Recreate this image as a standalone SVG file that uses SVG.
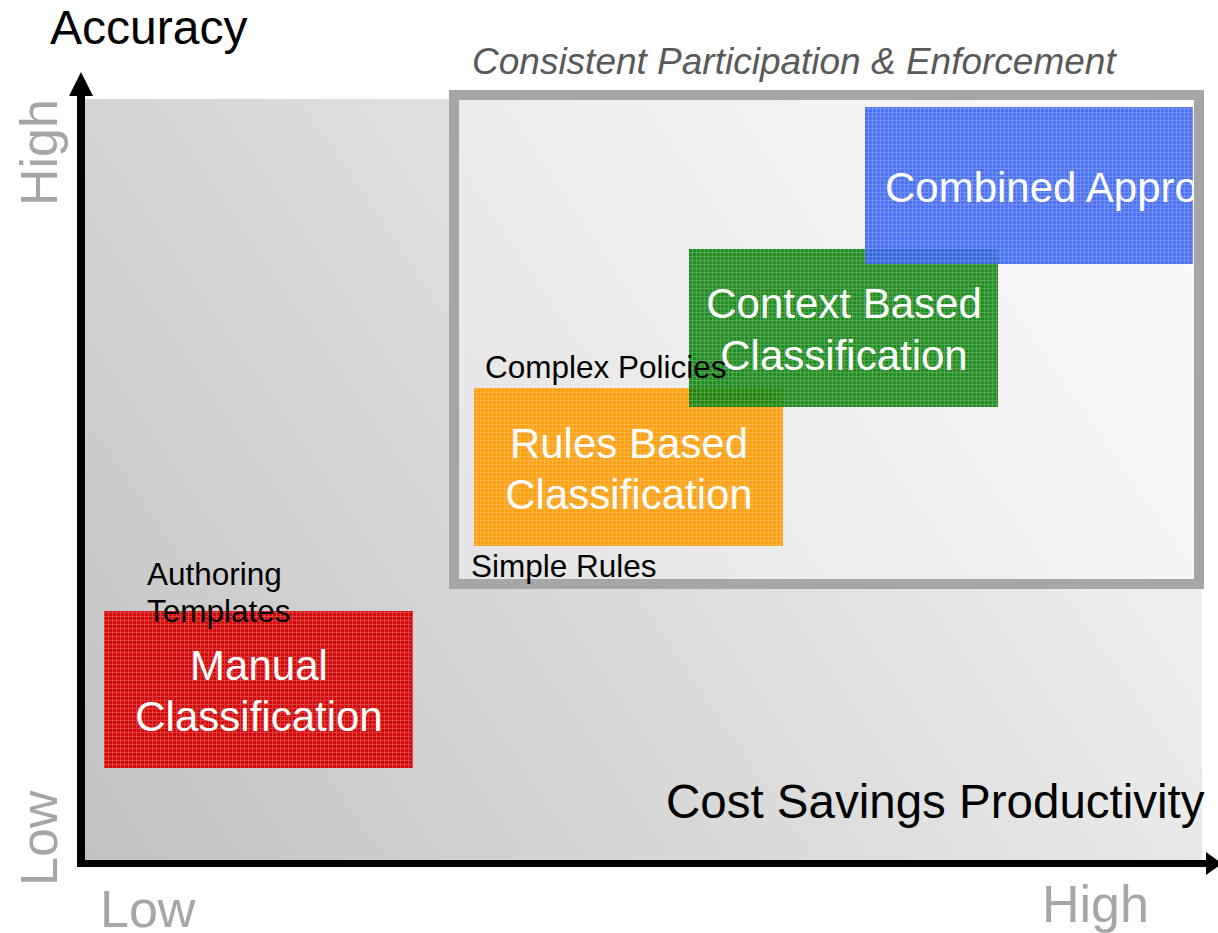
<svg xmlns="http://www.w3.org/2000/svg" width="1218" height="933" viewBox="0 0 1218 933">
  <style>
    .t { font-family: "Liberation Sans", Arial, sans-serif; }
    .axis-lbl { font-family: "Liberation Sans", Arial, sans-serif; font-size: 52px; fill: #a6a6a6; }
    .box-lbl { font-family: "Liberation Sans", Arial, sans-serif; font-size: 42px; fill: #ffffff; text-anchor: middle; }
    .note { font-family: "Liberation Sans", Arial, sans-serif; font-size: 31.5px; fill: #000000; }
    .tex { fill: url(#tex); }
  </style>
  <defs>
    <linearGradient id="bg" gradientUnits="userSpaceOnUse" x1="85" y1="860" x2="1202" y2="100">
      <stop offset="0" stop-color="#c2c2c2"/>
      <stop offset="1" stop-color="#fbfbfb"/>
    </linearGradient>
    <pattern id="tex" patternUnits="userSpaceOnUse" width="4" height="4">
      <rect x="0" y="0" width="4" height="1" fill="#ffffff" fill-opacity="0.22"/>
      <rect x="0" y="1" width="1" height="3" fill="#ffffff" fill-opacity="0.22"/>
    </pattern>
    <clipPath id="clipBlue">
      <rect x="865" y="107" width="328" height="157"/>
    </clipPath>
  </defs>

  <rect x="0" y="0" width="1218" height="933" fill="#ffffff"/>

  <!-- plot background -->
  <rect id="plot-bg" x="85" y="99" width="1117" height="761" fill="url(#bg)"/>

  <!-- frame -->
  <g id="frame">
    <rect x="454" y="95" width="745" height="489" fill="#ffffff" fill-opacity="0.35" stroke="#a6a6a6" stroke-width="10"/>
    <text class="t" x="472" y="74" font-size="37" font-style="italic" fill="#595959">Consistent Participation &amp; Enforcement</text>
  </g>

  <!-- axes -->
  <g id="axes">
    <rect x="77" y="94" width="8" height="773" fill="#000000"/>
    <polygon points="69,96 81,72 93,96" fill="#000000"/>
    <rect x="77" y="860" width="1131" height="7" fill="#000000"/>
    <polygon points="1206,852 1222,863.5 1206,875" fill="#000000"/>
  </g>

  <!-- axis labels -->
  <g id="axis-labels">
    <text class="t" x="50" y="44" font-size="48" fill="#000000">Accuracy</text>
    <text class="t" x="666" y="818" font-size="47.5" fill="#000000">Cost Savings Productivity</text>
    <text class="axis-lbl" transform="translate(57,206) rotate(-90)">High</text>
    <text class="axis-lbl" transform="translate(57,886) rotate(-90)">Low</text>
    <text class="axis-lbl" x="100" y="927">Low</text>
    <text class="axis-lbl" x="1042" y="922">High</text>
  </g>

  <!-- Manual -->
  <g id="manual">
    <rect x="104" y="611" width="309" height="157" fill="#d30a0a"/>
    <rect x="104" y="611" width="309" height="157" class="tex"/>
    <text class="note" x="147" y="585">Authoring</text>
    <text class="note" x="147" y="622">Templates</text>
    <text class="box-lbl" x="259" y="680">Manual</text>
    <text class="box-lbl" x="259" y="731">Classification</text>
  </g>

  <!-- Rules -->
  <g id="rules">
    <g opacity="0.92">
      <rect x="474" y="388" width="309" height="158" fill="#ff9a00"/>
      <rect x="474" y="388" width="309" height="158" class="tex"/>
    </g>
    <text class="note" x="471" y="577">Simple Rules</text>
    <text class="box-lbl" x="629" y="458">Rules Based</text>
    <text class="box-lbl" x="629" y="509">Classification</text>
  </g>

  <!-- Context -->
  <g id="context">
    <g opacity="0.9">
      <rect x="689" y="249" width="309" height="158" fill="#0d830d"/>
      <rect x="689" y="249" width="309" height="158" class="tex"/>
    </g>
    <text class="box-lbl" x="844" y="318">Context Based</text>
    <text class="box-lbl" x="844" y="370">Classification</text>
  </g>

  <!-- Combined -->
  <g id="combined">
    <g opacity="0.9">
      <rect x="865" y="107" width="328" height="157" fill="#3a64f2"/>
      <rect x="865" y="107" width="328" height="157" class="tex"/>
    </g>
    <text class="box-lbl" x="885" y="202" style="text-anchor:start" clip-path="url(#clipBlue)">Combined Approach</text>
  </g>

  <!-- label drawn over the green box -->
  <g id="complex-policies">
    <text class="note" x="485" y="378">Complex Policies</text>
  </g>
</svg>
